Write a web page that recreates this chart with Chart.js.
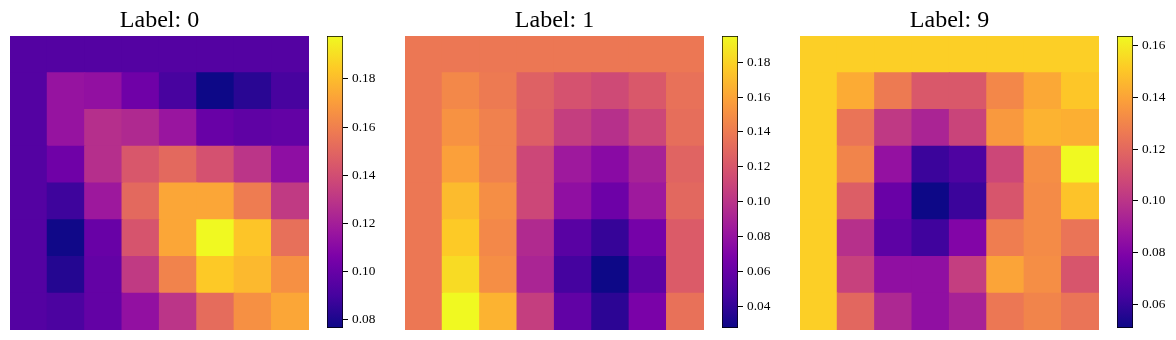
<!DOCTYPE html>
<html>
<head>
<meta charset="utf-8">
<script src="https://cdn.jsdelivr.net/npm/chart.js@4/dist/chart.umd.min.js"></script>
<style>
  html, body { margin: 0; padding: 0; background: #ffffff; }
  #wrap { position: relative; width: 1176px; height: 340px; overflow: hidden; background: #fff; }
  canvas { position: absolute; top: 0; }
</style>
</head>
<body>
<div id="wrap">
  <canvas id="h0" width="299" height="330" style="left:10px"></canvas>
  <canvas id="c0" width="60" height="340" style="left:327px"></canvas>
  <canvas id="h1" width="299" height="330" style="left:405px"></canvas>
  <canvas id="c1" width="60" height="340" style="left:722px"></canvas>
  <canvas id="h2" width="299" height="330" style="left:800px"></canvas>
  <canvas id="c2" width="60" height="340" style="left:1117px"></canvas>
</div>
<script>
// ---------- data ----------
const titles = ["Label: 0", "Label: 1", "Label: 9"];
const columns = ["0", "1", "2", "3", "4", "5", "6", "7"];

const grid0 = [
  [0.0940, 0.0940, 0.0940, 0.0940, 0.0940, 0.0940, 0.0940, 0.0940],
  [0.0940, 0.1147, 0.1135, 0.1025, 0.0903, 0.0763, 0.0830, 0.0903],
  [0.0940, 0.1147, 0.1269, 0.1244, 0.1159, 0.1001, 0.0976, 0.0988],
  [0.0940, 0.1025, 0.1269, 0.1439, 0.1512, 0.1415, 0.1293, 0.1122],
  [0.0940, 0.0879, 0.1171, 0.1512, 0.1731, 0.1731, 0.1585, 0.1317],
  [0.0940, 0.0769, 0.1001, 0.1427, 0.1731, 0.1979, 0.1829, 0.1537],
  [0.0940, 0.0818, 0.0988, 0.1317, 0.1610, 0.1841, 0.1792, 0.1658],
  [0.0940, 0.0915, 0.0988, 0.1135, 0.1293, 0.1524, 0.1658, 0.1731]
];
const grid1 = [
  [0.1381, 0.1381, 0.1381, 0.1381, 0.1381, 0.1381, 0.1381, 0.1381],
  [0.1381, 0.1465, 0.1398, 0.1264, 0.1180, 0.1130, 0.1213, 0.1347],
  [0.1381, 0.1515, 0.1431, 0.1247, 0.1063, 0.0979, 0.1113, 0.1331],
  [0.1381, 0.1582, 0.1431, 0.1113, 0.0845, 0.0745, 0.0895, 0.1280],
  [0.1381, 0.1699, 0.1498, 0.1113, 0.0778, 0.0628, 0.0845, 0.1297],
  [0.1381, 0.1766, 0.1465, 0.0946, 0.0544, 0.0410, 0.0661, 0.1230],
  [0.1381, 0.1833, 0.1498, 0.0912, 0.0460, 0.0276, 0.0561, 0.1230],
  [0.1381, 0.1950, 0.1665, 0.1063, 0.0577, 0.0376, 0.0678, 0.1347]
];
const grid9 = [
  [0.1525, 0.1525, 0.1525, 0.1525, 0.1525, 0.1525, 0.1525, 0.1525],
  [0.1525, 0.1423, 0.1265, 0.1141, 0.1141, 0.1310, 0.1412, 0.1502],
  [0.1525, 0.1243, 0.1017, 0.0937, 0.1062, 0.1367, 0.1446, 0.1435],
  [0.1525, 0.1299, 0.0858, 0.0610, 0.0655, 0.1073, 0.1333, 0.1638],
  [0.1525, 0.1163, 0.0734, 0.0508, 0.0610, 0.1130, 0.1322, 0.1491],
  [0.1525, 0.0983, 0.0700, 0.0621, 0.0802, 0.1276, 0.1322, 0.1243],
  [0.1525, 0.1050, 0.0847, 0.0847, 0.1039, 0.1401, 0.1333, 0.1130],
  [0.1525, 0.1197, 0.0949, 0.0847, 0.0926, 0.1254, 0.1299, 0.1243]
];

const ticks0 = [0.08, 0.10, 0.12, 0.14, 0.16, 0.18];
const ticks1 = [0.04, 0.06, 0.08, 0.10, 0.12, 0.14, 0.16, 0.18];
const ticks9 = [0.06, 0.08, 0.10, 0.12, 0.14, 0.16];

// ---------- plasma colormap ----------
const plasmaStops = [
  [0.000, "#0d0887"], [0.111, "#46039f"], [0.222, "#7201a8"], [0.250, "#7e03a8"],
  [0.333, "#9c179e"], [0.444, "#bd3786"], [0.500, "#cc4778"], [0.556, "#d8576b"],
  [0.667, "#ed7953"], [0.750, "#f89540"], [0.778, "#fb9f3a"], [0.889, "#fdca26"],
  [1.000, "#f0f921"]
];
function hexRgb(h) { return [1, 3, 5].map(i => parseInt(h.slice(i, i + 2), 16)); }
function plasma(t) {
  t = Math.max(0, Math.min(1, t));
  for (let i = 1; i < plasmaStops.length; i++) {
    const [t1, c1] = plasmaStops[i];
    if (t <= t1) {
      const [t0, c0] = plasmaStops[i - 1];
      const f = (t - t0) / (t1 - t0);
      const a = hexRgb(c0), b = hexRgb(c1);
      const c = a.map((v, k) => Math.round(v + (b[k] - v) * f));
      return `rgb(${c[0]},${c[1]},${c[2]})`;
    }
  }
  return plasmaStops[plasmaStops.length - 1][1];
}

const FONT = "'Liberation Serif', 'Times New Roman', serif";

function makeHeatmap(id, grid, title) {
  const flat = grid.flat();
  const vmin = Math.min(...flat), vmax = Math.max(...flat);
  const nRows = grid.length;
  const datasets = [];
  // stacked bars: first dataset is the bottom row
  for (let k = 0; k < nRows; k++) {
    const row = grid[nRows - 1 - k];
    datasets.push({
      label: "row " + (nRows - 1 - k),
      data: row.map(() => 1),
      backgroundColor: row.map(v => plasma((v - vmin) / (vmax - vmin))),
      borderWidth: 0,
      inflateAmount: 0.6,
      barPercentage: 1,
      categoryPercentage: 1
    });
  }
  new Chart(document.getElementById(id), {
    type: "bar",
    data: { labels: columns, datasets },
    options: {
      responsive: false,
      animation: false,
      layout: { padding: 0 },
      plugins: {
        legend: { display: false },
        tooltip: { enabled: false },
        title: {
          display: true,
          text: title,
          color: "#000",
          font: { family: FONT, size: 24, weight: "normal" },
          padding: { top: 6, bottom: 1.2 }
        }
      },
      scales: {
        x: { stacked: true, display: false },
        y: { stacked: true, display: false, min: 0, max: nRows }
      }
    }
  });
  return { vmin, vmax };
}

function makeColorbar(id, vmin, vmax, tickVals) {
  new Chart(document.getElementById(id), {
    type: "bar",
    data: {
      labels: ["cb"],
      datasets: [{
        data: [[vmin, vmax]],
        backgroundColor: (ctx) => {
          const area = ctx.chart.chartArea;
          if (!area) return "#888";
          const g = ctx.chart.ctx.createLinearGradient(0, area.bottom, 0, area.top);
          plasmaStops.forEach(([t, c]) => g.addColorStop(t, c));
          return g;
        },
        borderColor: "#000",
        borderWidth: 1,
        borderSkipped: false,
        barPercentage: 1,
        categoryPercentage: 1
      }]
    },
    options: {
      responsive: false,
      animation: false,
      layout: { padding: { top: 36, bottom: 10, left: 0, right: 0 } },
      plugins: { legend: { display: false }, tooltip: { enabled: false }, title: { display: false } },
      scales: {
        x: { display: false },
        y: {
          position: "right",
          min: vmin,
          max: vmax,
          afterBuildTicks: (scale) => { scale.ticks = tickVals.map(v => ({ value: v })); },
          afterFit: (scale) => { scale.width = 44; },
          border: { display: false },
          grid: {
            display: true,
            drawOnChartArea: false,
            drawTicks: true,
            tickLength: 5,
            tickWidth: 1,
            tickColor: "#000",
            color: "#000"
          },
          ticks: {
            color: "#000",
            padding: 4,
            font: { family: FONT, size: 13.33 },
            callback: (v) => Number(v).toFixed(2)
          }
        }
      }
    }
  });
}

const r0 = makeHeatmap("h0", grid0, titles[0]);
makeColorbar("c0", r0.vmin, r0.vmax, ticks0);
const r1 = makeHeatmap("h1", grid1, titles[1]);
makeColorbar("c1", r1.vmin, r1.vmax, ticks1);
const r2 = makeHeatmap("h2", grid9, titles[2]);
makeColorbar("c2", r2.vmin, r2.vmax, ticks9);
</script>
</body>
</html>
